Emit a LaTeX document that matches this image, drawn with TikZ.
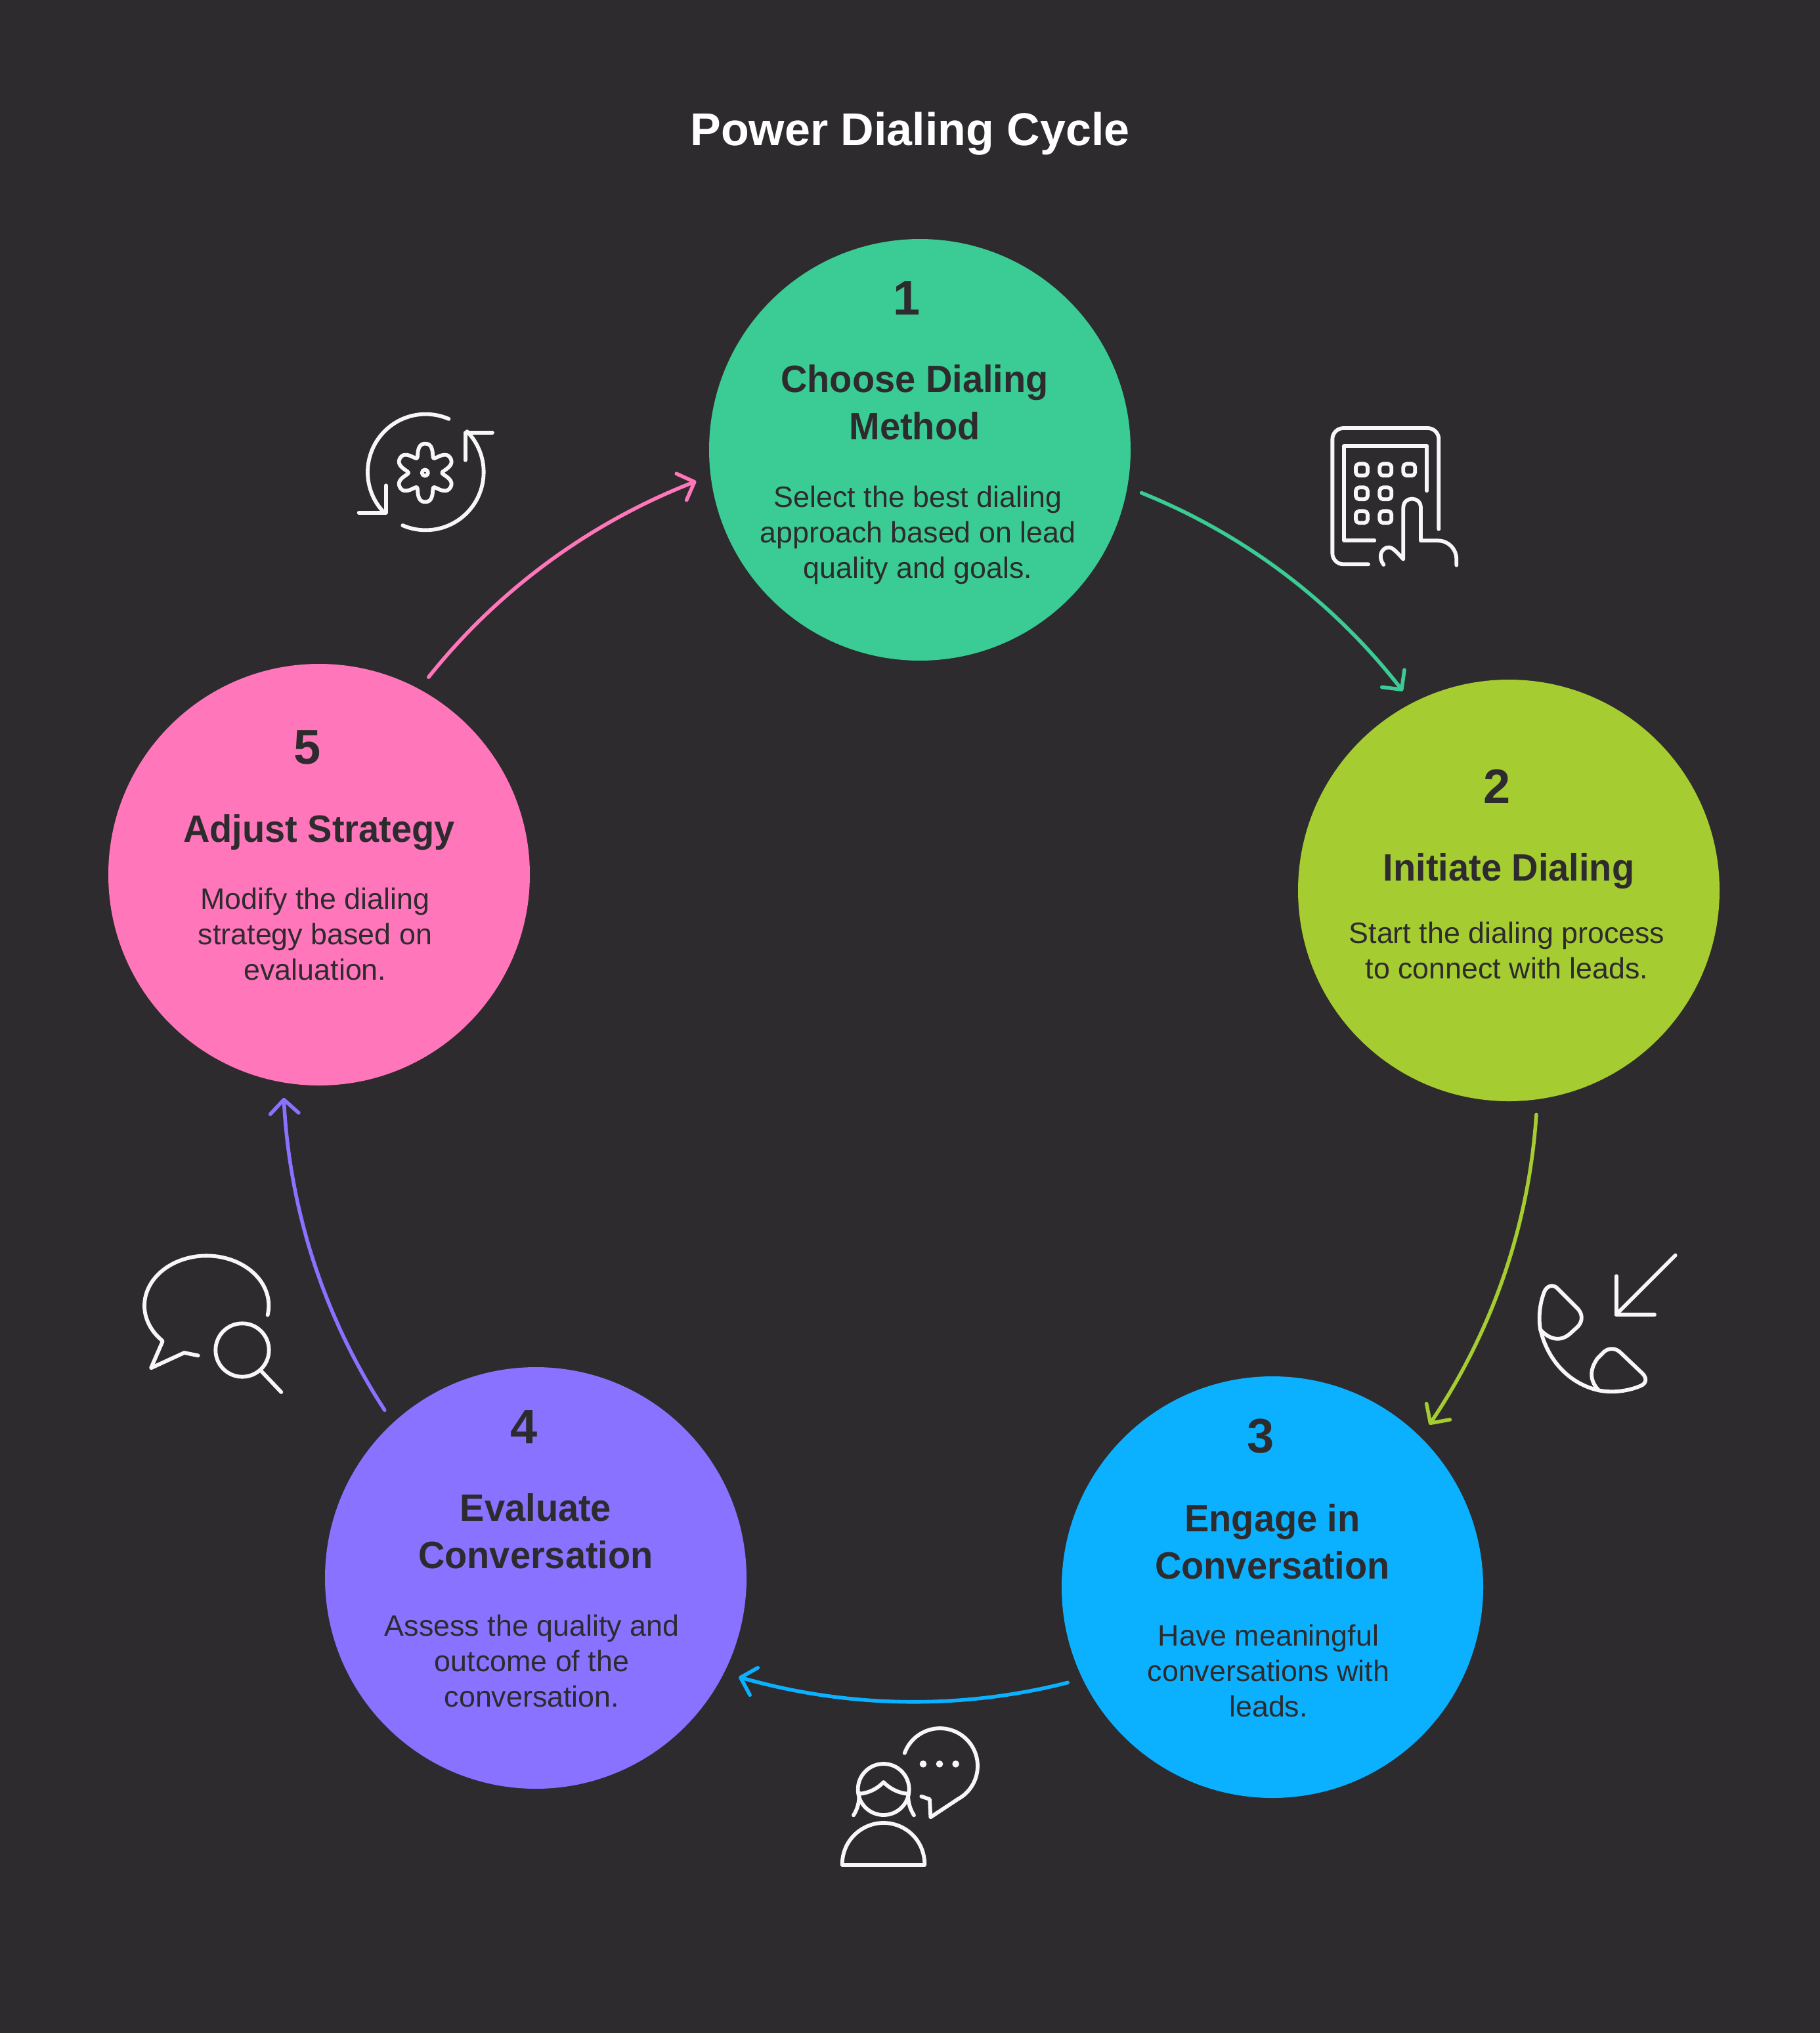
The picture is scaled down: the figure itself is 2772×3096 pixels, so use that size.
\documentclass[tikz,border=0pt]{standalone}
\usepackage{fontspec}
\usetikzlibrary{arrows.meta,bending}
\setmainfont{Liberation Sans}
\newfontfamily\headfont[FakeStretch=0.965]{Liberation Sans}
\definecolor{bgdark}{HTML}{2D2B2E}
\definecolor{cgreen}{HTML}{3BCB94}
\definecolor{clime}{HTML}{A5CC30}
\definecolor{cblue}{HTML}{0BB1FF}
\definecolor{cpurple}{HTML}{8872FF}
\definecolor{cpink}{HTML}{FF76BB}
\definecolor{iconwhite}{HTML}{F8F7F8}
\tikzset{
  bubble/.style={circle,minimum size=160.5pt,inner sep=0pt,outer sep=5.75pt,fill=#1},
  numtxt/.style={anchor=base,inner sep=0pt,text=bgdark,font=\bfseries\fontsize{18.5}{22}\selectfont},
  headtxt/.style={anchor=base,inner sep=0pt,align=center,text=bgdark,font=\headfont\bfseries\fontsize{14.5}{18}\selectfont},
  bodytxt/.style={anchor=base,inner sep=0pt,align=center,text=bgdark,font=\fontsize{11.2}{13.5}\selectfont},
  flow/.style={draw=#1,line width=1.4pt,line cap=round,line join=round,looseness=0.866,-{Straight Barb[length=5.3pt,width=10.8pt,round]}},
  iconline/.style={draw=iconwhite,line width=1.45pt,line cap=round,line join=round},
  iconat/.style 2 args={shift={(#1,#2)},x=0.083333pt,y=-0.083333pt}
}
\begin{document}
\begin{tikzpicture}[x=0.25pt,y=-0.25pt]
\fill[bgdark] (0,0) rectangle (2772,3096);
\useasboundingbox (0,0) rectangle (2772,3096);

\node[anchor=base,inner sep=0pt,text=white,font=\bfseries\fontsize{17.5}{21}\selectfont] (title) at (1386,221) {Power Dialing Cycle};

\node[bubble=cgreen] (c1) at (1401,685) {};
\node[bubble=clime] (c2) at (2298,1356) {};
\node[bubble=cblue] (c3) at (1938,2417) {};
\node[bubble=cpurple] (c4) at (816,2403) {};
\node[bubble=cpink] (c5) at (486,1332) {};

\node[numtxt] (n1) at (1381,479) {1};
\node[headtxt] (h1) at (1393,669) {Choose Dialing\\Method};
\node[bodytxt] (b1) at (1398,880) {Select the best dialing\\approach based on lead\\quality and goals.};

\node[numtxt] (n2) at (2280,1223) {2};
\node[headtxt] (h2) at (2298,1341) {Initiate Dialing};
\node[bodytxt] (b2) at (2295,1490) {Start the dialing process\\to connect with leads.};

\node[numtxt] (n3) at (1920,2212) {3};
\node[headtxt] (h3) at (1938,2404) {Engage in\\Conversation};
\node[bodytxt] (b3) at (1932,2614) {Have meaningful\\conversations with\\leads.};

\node[numtxt] (n4) at (798,2198) {4};
\node[headtxt] (h4) at (816,2388) {Evaluate\\Conversation};
\node[bodytxt] (b4) at (810,2599) {Assess the quality and\\outcome of the\\conversation.};

\node[numtxt] (n5) at (468,1163) {5};
\node[headtxt] (h5) at (486,1282) {Adjust Strategy};
\node[bodytxt] (b5) at (480,1492) {Modify the dialing\\strategy based on\\evaluation.};

\draw[flow=cgreen] (c1.-11) to[bend left=15.25] (c2.118.4);
\draw[flow=clime] (c2.-83.3) to[bend left=15.25] (c3.46.4);
\draw[flow=cblue] (c3.205.6) to[bend left=15.25] (c4.-26.3);
\draw[flow=cpurple] (c4.132.9) to[bend left=15.25] (c5.-99);
\draw[flow=cpink] (c5.61.3) to[bend left=15.25] (c1.188.6);

% keypad icon
\begin{scope}[iconat={2000}{630}]
\draw[iconline,rounded corners=4.2pt] (252,688) -- (88,688) -- (88,66) -- (574,66) -- (574,527);
\draw[iconline] (280,580) -- (142,580) -- (142,148) -- (520,148) -- (520,352);
\foreach \px/\py in {222/256,331/256,439/256,222/364,331/364,222/472,331/472}
  \draw[iconline,rounded corners=1.3pt] (\px-27,\py-27) rectangle (\px+27,\py+27);
\draw[iconline] (322,690) .. controls (300,660) and (305,625) .. (335,612) .. controls (355,605) and (370,618) .. (412,665) -- (412,430) .. controls (412,375) and (492,375) .. (492,430) -- (492,580) -- (570,580) .. controls (620,580) and (655,620) .. (655,665) -- (655,692);
\end{scope}

% gear icon
\begin{scope}[iconat={520}{610}]
\draw[iconline] plot[domain=66.5:223,samples=70,variable=\t] ({385+265*cos(\t)},{327-265*sin(\t)});
\draw[iconline] plot[domain=246.7:404.5,samples=70,variable=\t] ({385+265*cos(\t)},{327-265*sin(\t)});
\draw[iconline] (203,388) -- (203,512) -- (80,512);
\draw[iconline] (566,272) -- (566,147) -- (690,147);
\draw[iconline] plot[domain=0:360,samples=180,variable=\t] ({383+(110-28*cos(6*\t)-5*cos(12*\t))*cos(\t)},{330-(110-28*cos(6*\t)-5*cos(12*\t))*sin(\t)}) -- cycle;
\draw[iconline] (382,330) circle[radius=14];
\end{scope}

% phone icon
\begin{scope}[iconat={2320}{1890}]
\draw[iconline] (695,65) -- (425,335);
\draw[iconline] (425,160) -- (425,337) -- (600,337);
\draw[iconline] (78,405) .. controls (68,340) and (78,280) .. (95,235) .. controls (105,205) and (135,195) .. (155,215) -- (250,310) .. controls (272,335) and (272,365) .. (250,390) -- (215,422) .. controls (170,462) and (120,450) .. (78,405) -- cycle;
\draw[iconline] (78,400) .. controls (105,530) and (200,650) .. (345,682);
\draw[iconline] (345,682) .. controls (305,640) and (300,590) .. (340,535) -- (370,505) .. controls (395,485) and (425,490) .. (445,510) -- (545,605) .. controls (565,625) and (565,650) .. (535,662) .. controls (480,685) and (410,695) .. (345,682) -- cycle;
\end{scope}

% person with speech bubble icon
\begin{scope}[iconat={1260}{2610}]
\draw[iconline] plot[domain=160:-61,samples=70,variable=\t] ({515+172*cos(\t)},{238-172*sin(\t)}) -- (472,472) -- (468,390) -- (430,377);
\foreach \px in {438,513,587}
  \fill[iconwhite] (\px,229) circle[radius=16];
\draw[iconline] (257,345) circle[radius=117];
\draw[iconline] (150,365) .. controls (195,360) and (230,340) .. (257,312) .. controls (285,340) and (320,360) .. (365,365);
\draw[iconline] (145,360) .. controls (148,400) and (138,435) .. (120,463);
\draw[iconline] (370,360) .. controls (367,400) and (378,435) .. (396,463);
\draw[iconline] (68,690) .. controls (68,575) and (160,498) .. (257,498) .. controls (355,498) and (445,575) .. (445,690) -- cycle;
\end{scope}

% search bubble icon
\begin{scope}[iconat={200}{1890}]
\draw[iconline] plot[domain=-10.8:224,samples=80,variable=\t] ({344+284*cos(\t)},{295-228*sin(\t)}) -- (143,458) -- (90,580) -- (242,510) -- (305,523);
\draw[iconline] (507,498) circle[radius=122];
\draw[iconline] (590,590) -- (685,690);
\end{scope}
\end{tikzpicture}
\end{document}
